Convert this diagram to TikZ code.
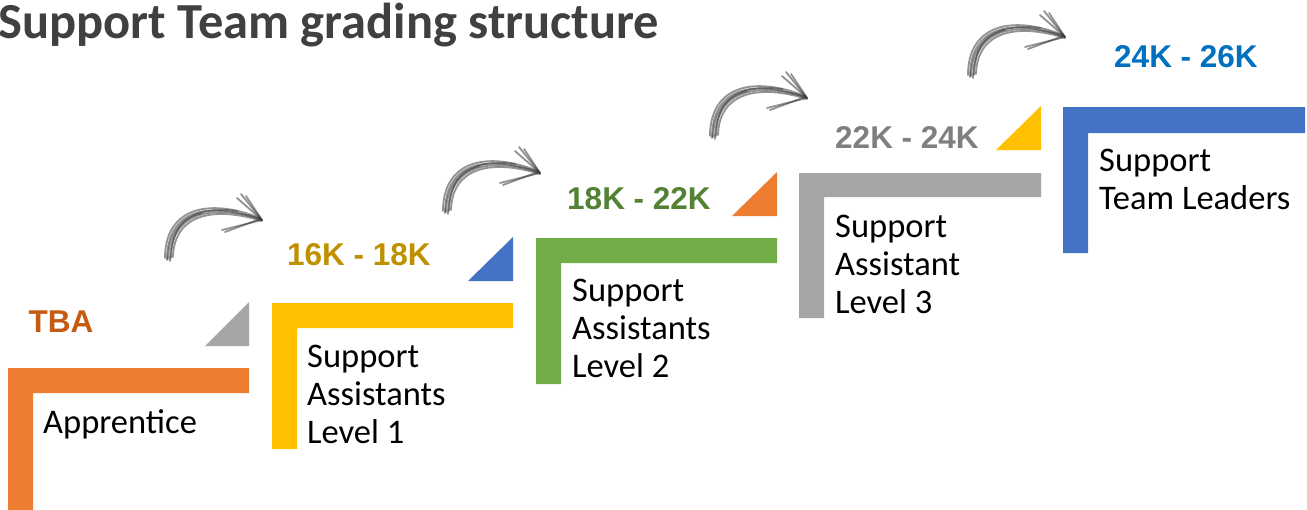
\documentclass[tikz,border=0pt]{standalone}
\usepackage{fontspec}
\setmainfont{Carlito}
\newfontfamily\arialfont{Liberation Sans}

\definecolor{barorange}{HTML}{ED7D31}
\definecolor{baryellow}{HTML}{FFC000}
\definecolor{bargreen}{HTML}{70AD47}
\definecolor{bargray}{HTML}{A5A5A5}
\definecolor{barblue}{HTML}{4472C4}
\definecolor{txtorange}{HTML}{C55A11}
\definecolor{txtgold}{HTML}{BF9000}
\definecolor{txtgreen}{HTML}{548235}
\definecolor{txtgray}{HTML}{7F7F7F}
\definecolor{txtblue}{HTML}{0070C0}
\definecolor{titlegray}{HTML}{404040}
\definecolor{sketchgray}{HTML}{383838}

\begin{document}
\begin{tikzpicture}[
    x=1pt, y=-1pt,
    title/.style={font=\fontsize{50.5}{58}\selectfont\bfseries, text=titlegray, inner sep=0pt, anchor=base west},
    stage/.style={font=\fontsize{34.5}{38}\selectfont, align=left, inner sep=0pt, anchor=base west},
    salary/.style={font=\arialfont\bfseries\fontsize{31.5}{36}\selectfont, inner sep=0pt},
    sketch/.style={draw=sketchgray, line width=1.8pt, line cap=round, opacity=0.55},
    sketcharrow/.pic={
        \draw[sketch] (0,0) .. controls (0,-50) and (40,-60) .. (95,-40);
        \draw[sketch] (3,1) .. controls (3,-46) and (42,-57) .. (94,-41);
        \draw[sketch] (-2,-2) .. controls (-2,-51) and (40,-63) .. (93,-42);
        \draw[sketch] (6,-3) .. controls (7,-44) and (44,-55) .. (95,-39);
        \draw[sketch] (1,-1) .. controls (2,-40) and (30,-54) .. (70,-49);
        \draw[sketch] (4,-2) .. controls (5,-30) and (15,-42) .. (35,-47);
        \draw[sketch] (95,-40) -- (74,-66);
        \draw[sketch] (94,-41) -- (70,-62);
        \draw[sketch] (95,-40) -- (79,-64);
        \draw[sketch] (95,-40) -- (55,-30);
        \draw[sketch] (93,-41) -- (58,-28);
    }
]

\useasboundingbox (0,0) rectangle (1307,509);

% -------------------------------------------------
% TITLE
% -------------------------------------------------
\node[title] (title) at (-2,38) {Support Team grading structure};

% -------------------------------------------------
% STEPS
% -------------------------------------------------
\fill[barorange] (8,368) -- ++(241,0) -- ++(0,25) -- ++(-216,0) -- ++(0,121) -- ++(-25,0) -- cycle;
\fill[baryellow] (272,303) -- ++(241,0) -- ++(0,25) -- ++(-216,0) -- ++(0,121) -- ++(-25,0) -- cycle;
\fill[bargreen] (536,238) -- ++(241,0) -- ++(0,25) -- ++(-216,0) -- ++(0,121) -- ++(-25,0) -- cycle;
\fill[bargray] (799,173) -- ++(242,0) -- ++(0,24) -- ++(-217,0) -- ++(0,121) -- ++(-25,0) -- cycle;
\fill[barblue] (1063,107) -- ++(242,0) -- ++(0,26) -- ++(-217,0) -- ++(0,120) -- ++(-25,0) -- cycle;

% corner triangles
\fill[bargray] (205,346) -- (249,346) -- (249,302) -- cycle;
\fill[barblue] (468,281) -- (513,281) -- (513,237) -- cycle;
\fill[barorange] (732,216) -- (777,216) -- (777,172) -- cycle;
\fill[baryellow] (996,150) -- (1041,150) -- (1041,106) -- cycle;

% -------------------------------------------------
% SALARY LABELS
% -------------------------------------------------
\node[salary, text=txtorange] (pay1) at (61,322) {TBA};
\node[salary, text=txtgold] (pay2) at (359,255) {16K - 18K};
\node[salary, text=txtgreen] (pay3) at (639,199) {18K - 22K};
\node[salary, text=txtgray] (pay4) at (907,137) {22K - 24K};
\node[salary, text=txtblue] (pay5) at (1186,57) {24K - 26K};

% -------------------------------------------------
% GRADE NAMES (anchored at the last baseline)
% -------------------------------------------------
\node[stage] (grade1) at (43,433) {Apprentice};
\node[stage] (grade2) at (307,443) {Support\\Assistants\\Level 1};
\node[stage] (grade3) at (572,377) {Support\\Assistants\\Level 2};
\node[stage] (grade4) at (835,313) {Support\\Assistant\\Level 3};
\node[stage] (grade5) at (1099,209) {Support\\Team Leaders};

% -------------------------------------------------
% SKETCHED ARROWS
% -------------------------------------------------
\pic at (167,260) {sketcharrow};
\pic at (445,213) {sketcharrow};
\pic at (712,138) {sketcharrow};
\pic at (970,77) {sketcharrow};

\end{tikzpicture}
\end{document}
